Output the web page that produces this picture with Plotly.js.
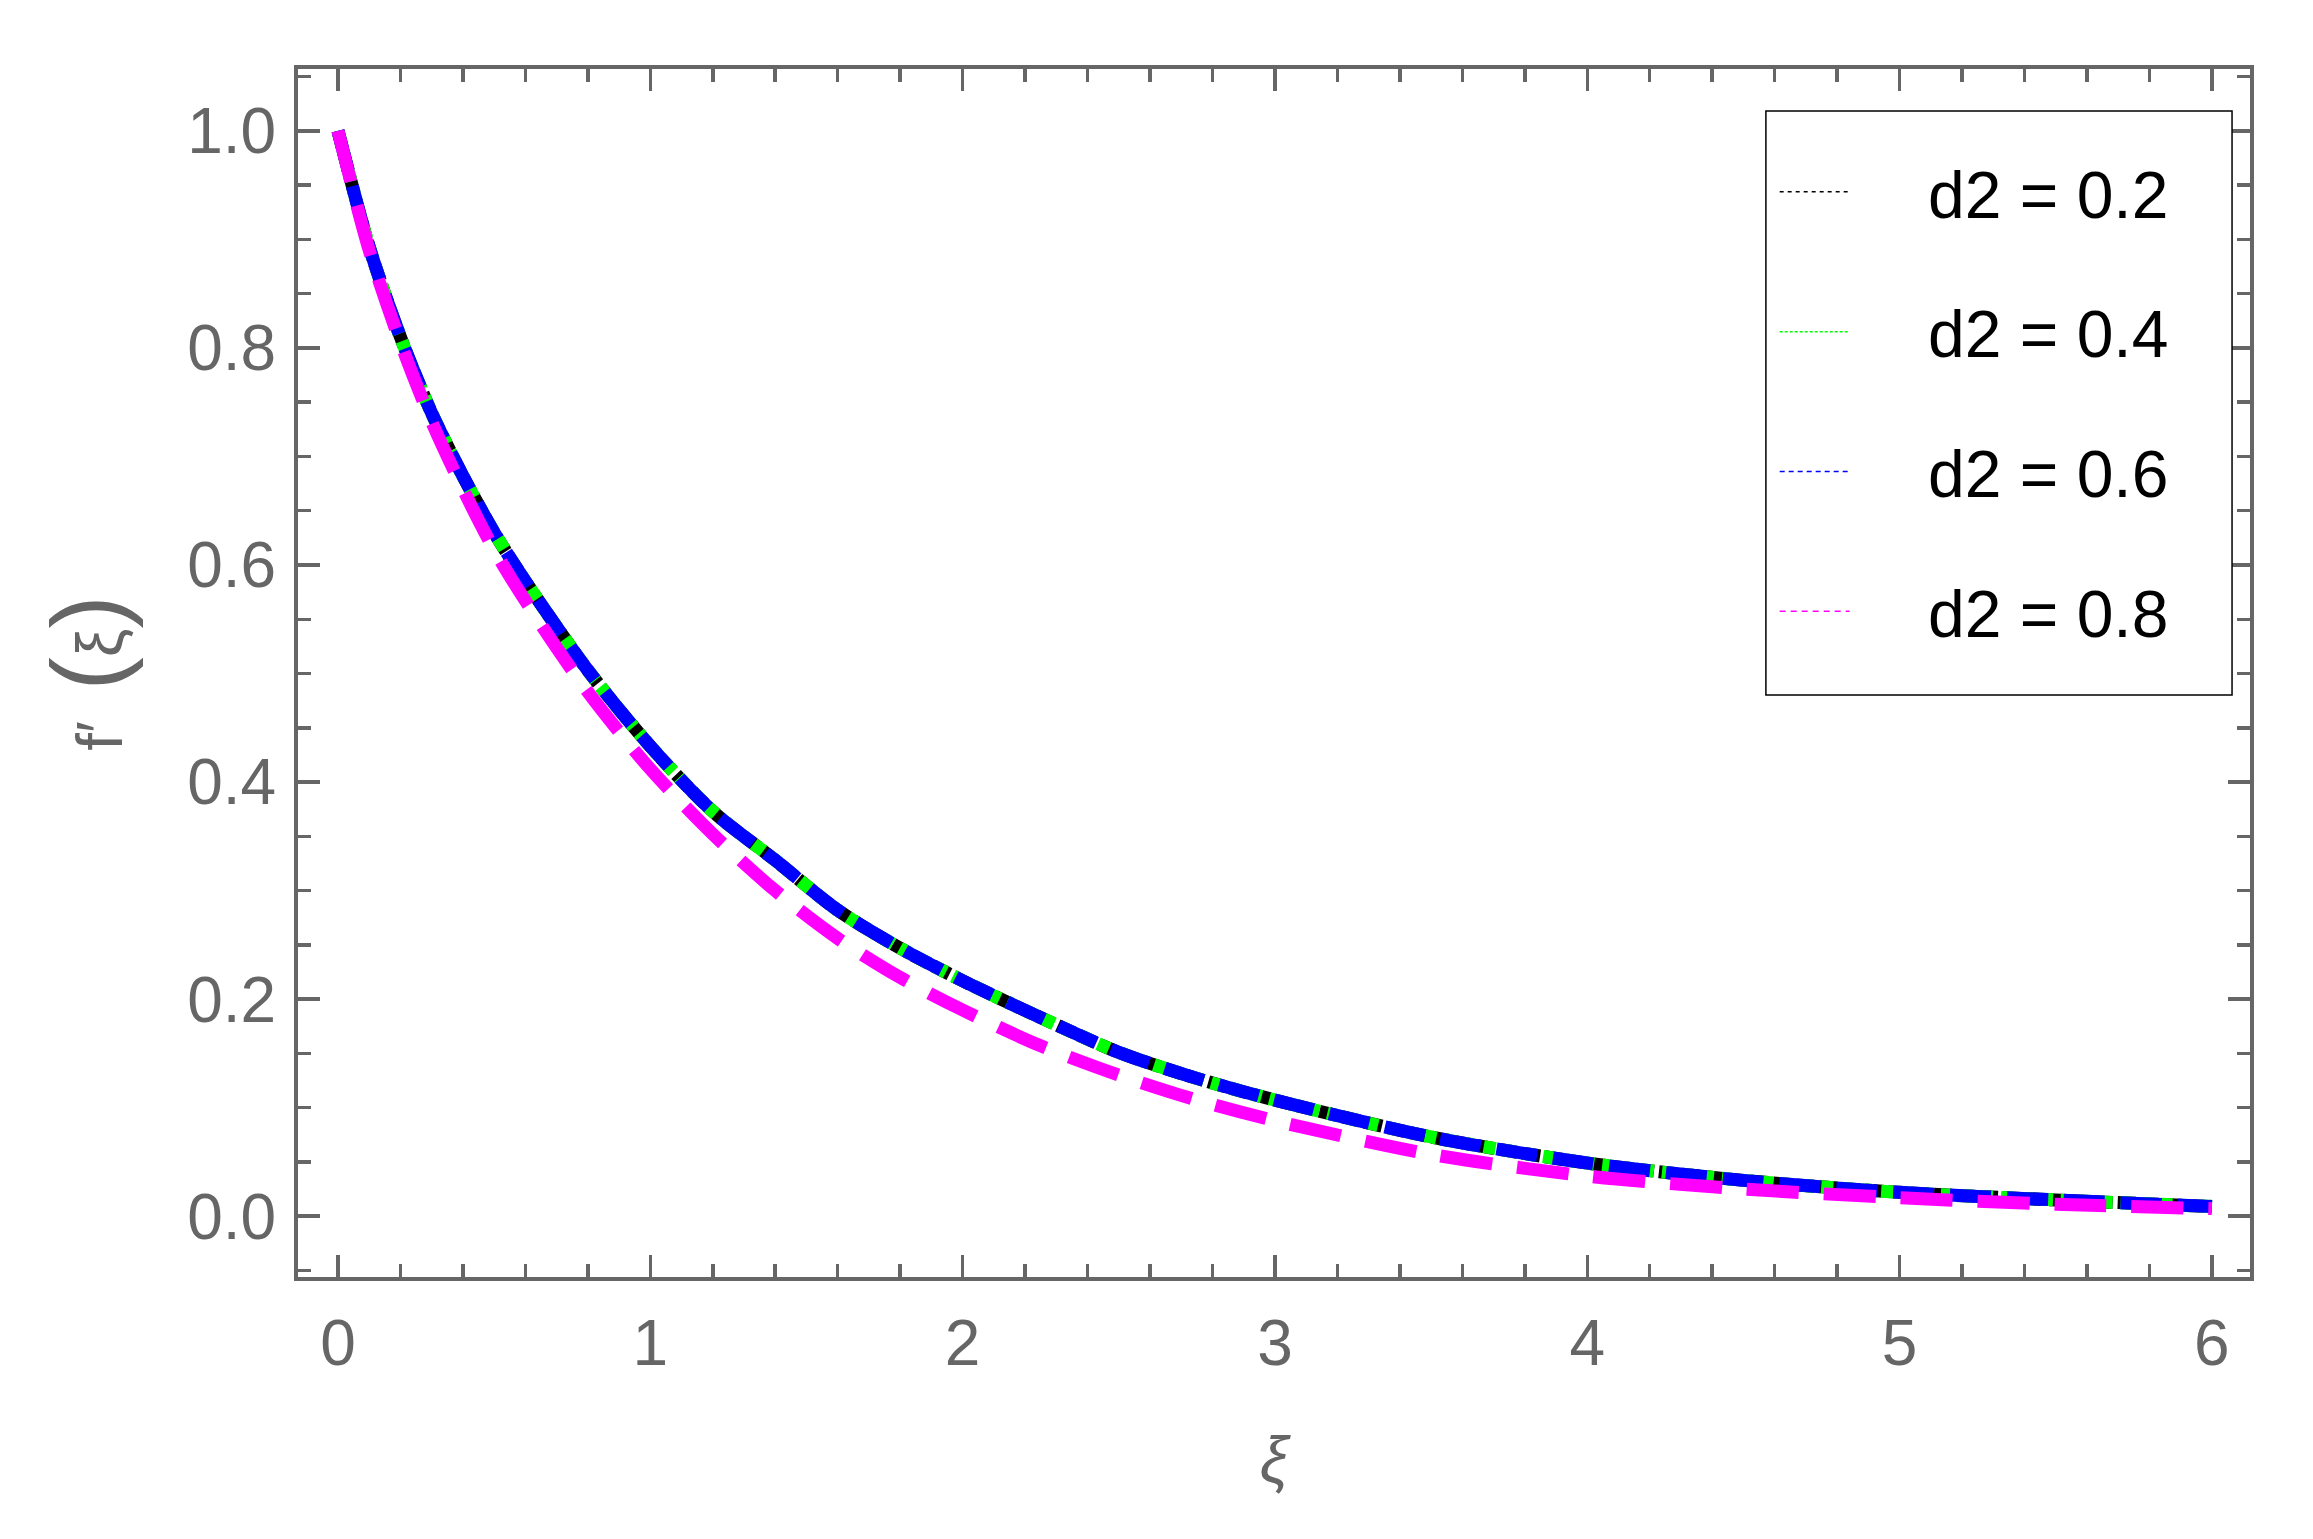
<!DOCTYPE html>
<html>
<head>
<meta charset="utf-8">
<script src="https://cdn.plot.ly/plotly-3.0.1.min.js"></script>
<style>
  html, body { margin: 0; padding: 0; background: #fff; }
  #chart { width: 2313px; height: 1539px; }
</style>
</head>
<body>
<div id="chart"></div>
<script>
// xi values and f'(xi)
let xi = [0, 0.1, 0.2, 0.3, 0.4, 0.5, 0.6, 0.8, 1.0, 1.2, 1.4, 1.6, 1.8, 2.0, 2.25, 2.5, 2.75, 3.0, 3.5, 4.0, 4.5, 5.0, 5.5, 6.0];
let fp_d02 = [1.000, 0.893, 0.810, 0.740, 0.682, 0.630, 0.585, 0.503, 0.433, 0.373, 0.328, 0.282, 0.247, 0.217, 0.183, 0.151, 0.127, 0.107, 0.073, 0.049, 0.033, 0.022, 0.015, 0.009];
let fp_d04 = [1.000, 0.893, 0.810, 0.740, 0.682, 0.630, 0.585, 0.503, 0.433, 0.373, 0.328, 0.282, 0.247, 0.217, 0.183, 0.151, 0.127, 0.107, 0.073, 0.049, 0.033, 0.022, 0.015, 0.009];
let fp_d06 = [1.000, 0.893, 0.810, 0.740, 0.682, 0.630, 0.585, 0.503, 0.433, 0.373, 0.328, 0.282, 0.247, 0.217, 0.183, 0.151, 0.127, 0.107, 0.073, 0.049, 0.033, 0.022, 0.015, 0.009];
let fp_d08 = [1.000, 0.890, 0.805, 0.732, 0.670, 0.614, 0.567, 0.483, 0.412, 0.352, 0.300, 0.256, 0.220, 0.190, 0.157, 0.130, 0.107, 0.088, 0.057, 0.037, 0.025, 0.017, 0.011, 0.007];

let names = ['d2 = 0.2', 'd2 = 0.4', 'd2 = 0.6', 'd2 = 0.8'];
let series = [fp_d02, fp_d04, fp_d06, fp_d08];
let colors = ['#000000', '#00ff00', '#0000ff', '#ff00ff'];
let dashes = ['18px,5px', '12px,8px', '41px,16px', '52px,25px'];
let legendDashes = ['4px,4px', '3px,2px', '5px,4px', '6px,5px'];

let pad = '\u00a0\u00a0\u00a0\u00a0';
let traces = [];
for (let i = 0; i < series.length; i++) {
    traces.push({
        x: xi,
        y: series[i],
        type: 'scatter',
        mode: 'lines',
        line: {color: colors[i], width: 13, dash: dashes[i], shape: 'spline', smoothing: 0.8},
        showlegend: false,
        hoverinfo: 'skip'
    });
}
// thin legend samples
for (let i = 0; i < series.length; i++) {
    traces.push({
        x: [null],
        y: [null],
        type: 'scatter',
        mode: 'lines',
        name: pad + names[i],
        legendgroup: 'g' + i,
        line: {color: colors[i], width: 1.5, dash: legendDashes[i]}
    });
}

let gray = '#666666';
let tickFont = {family: 'Liberation Sans, Arial, sans-serif', size: 64, color: gray};
let bigParen = '<span style="font-size:100px">';

let layout = {
    width: 2313,
    height: 1539,
    paper_bgcolor: '#ffffff',
    plot_bgcolor: '#ffffff',
    margin: {l: 298, r: 63, t: 69, b: 262},
    showlegend: true,
    legend: {
        x: 0.7565, y: 0.9715, xanchor: 'left', yanchor: 'top',
        bgcolor: 'rgba(0,0,0,0)',
        borderwidth: 0,
        itemwidth: 70,
        tracegroupgap: 51,
        font: {family: 'Liberation Sans, Arial, sans-serif', size: 66, color: '#000000'},
        title: {text: '\u00a0', font: {size: 30}}
    },
    // legend frame
    shapes: [{
        type: 'rect', xref: 'paper', yref: 'paper',
        x0: 0.752, x1: 0.9908, y0: 0.4818, y1: 0.9652,
        line: {color: '#000000', width: 1.5},
        fillcolor: '#ffffff',
        layer: 'above'
    }],
    xaxis: {
        range: [-0.128, 6.122],
        showgrid: false, zeroline: false,
        showline: true, linecolor: gray, linewidth: 4, mirror: 'ticks',
        ticks: 'inside', ticklen: 22, tickwidth: 3.5, tickcolor: gray,
        dtick: 1, tick0: 0,
        tickfont: tickFont,
        ticklabelstandoff: 7,
        minor: {dtick: 0.2, tick0: 0, ticks: 'inside', ticklen: 13, tickwidth: 3.5, tickcolor: gray},
        title: {text: '<i>ξ</i>', font: tickFont, standoff: 60}
    },
    yaxis: {
        range: [-0.056, 1.057],
        showgrid: false, zeroline: false,
        showline: true, linecolor: gray, linewidth: 4, mirror: 'ticks',
        ticks: 'inside', ticklen: 22, tickwidth: 3.5, tickcolor: gray,
        dtick: 0.2, tick0: 0, tickformat: '.1f',
        tickfont: tickFont,
        ticklabelstandoff: 5,
        minor: {dtick: 0.05, tick0: 0, ticks: 'inside', ticklen: 13, tickwidth: 3.5, tickcolor: gray},
        title: {text: 'f\u2032 \u2009' + bigParen + '(</span>ξ' + bigParen + ')</span>', font: tickFont, standoff: 45}
    }
};

Plotly.newPlot('chart', traces, layout, {displayModeBar: false, staticPlot: true});
</script>
</body>
</html>
